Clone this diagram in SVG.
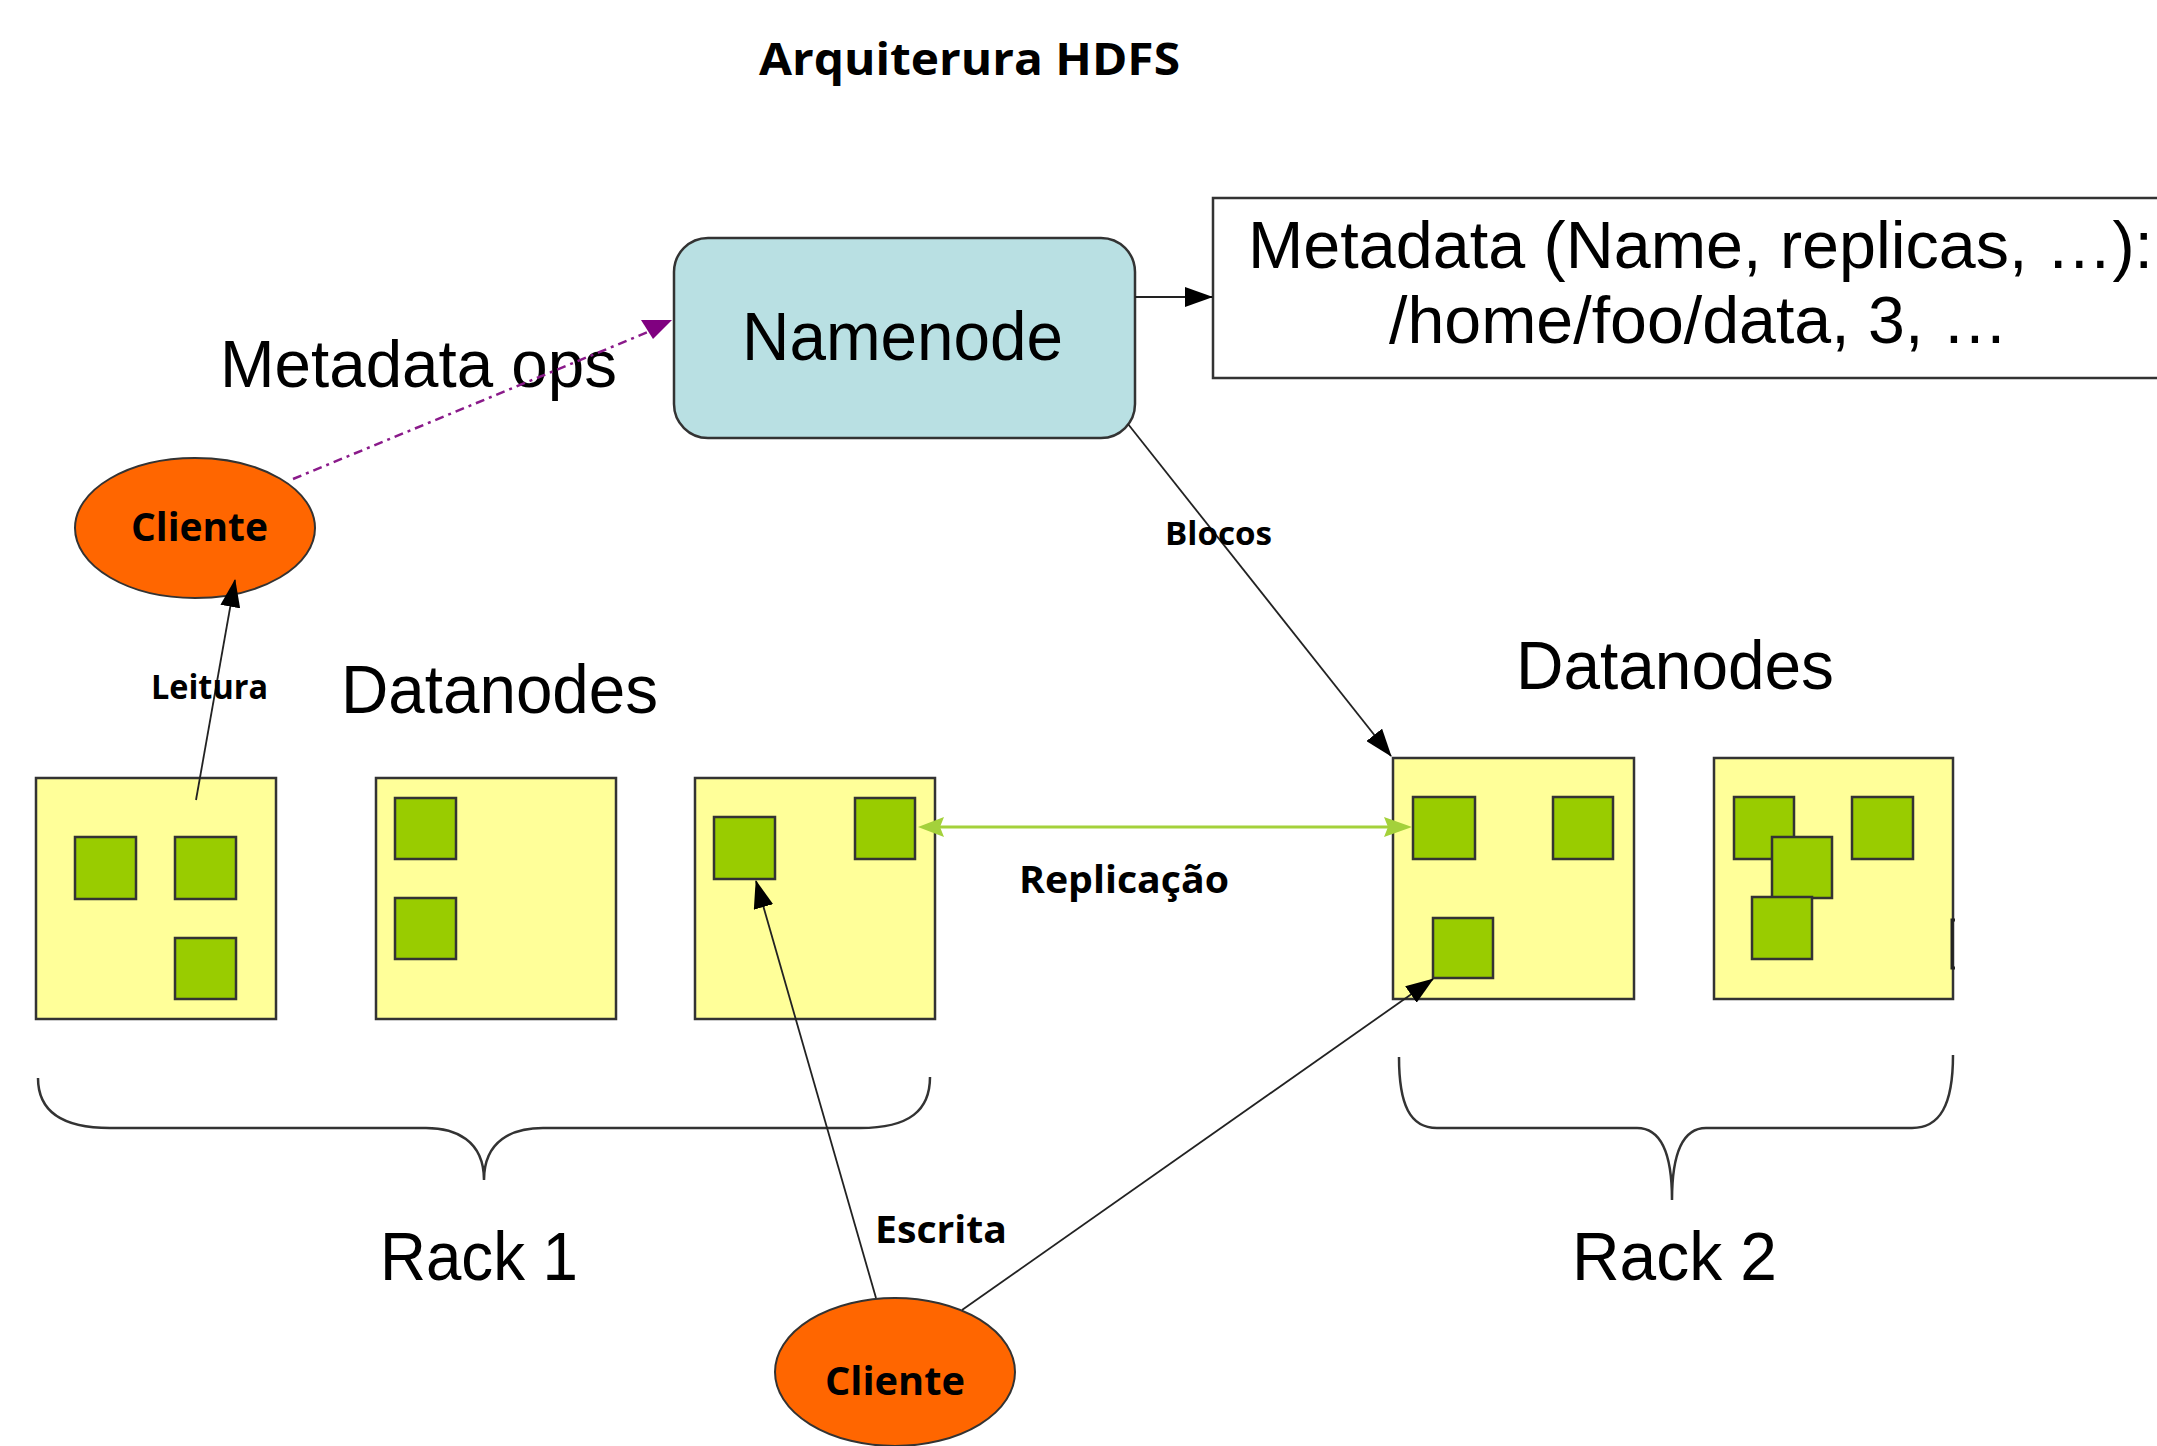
<svg xmlns="http://www.w3.org/2000/svg" width="2157" height="1446" viewBox="0 0 2157 1446">
  <style>
    .bg { fill: #ffffff; }
    .sans { font-family: "Liberation Sans", Arial, sans-serif; fill: #000; }
    .bold { font-family: "Open Sans", "Noto Sans", sans-serif; font-weight: bold; fill: #000; }
    .rack { fill: #ffff99; stroke: #333; stroke-width: 2.5; }
    .blk { fill: #99cc00; stroke: #333; stroke-width: 2.5; }
    .client { fill: #ff6600; stroke: #333; stroke-width: 2; }
    .link { stroke: #222; stroke-width: 1.8; fill: none; }
    .brace { stroke: #333; stroke-width: 2.5; fill: none; }
  </style>
  <defs>
    <marker id="arrow" markerUnits="userSpaceOnUse" markerWidth="28" markerHeight="20" viewBox="0 0 28 20" refX="27" refY="10" orient="auto">
      <path d="M0,0 L28,10 L0,20 Z" fill="#000"/>
    </marker>
  </defs>

  <rect class="bg" x="0" y="0" width="2157" height="1446"/>

  <text id="title" class="bold" x="759" y="75" font-size="44" textLength="421" lengthAdjust="spacingAndGlyphs">Arquiterura HDFS</text>

  <!-- namenode and its metadata -->
  <g id="namenode">
    <rect x="674" y="238" width="461" height="200" rx="34" ry="34" fill="#b9e0e3" stroke="#333" stroke-width="2.5"/>
    <text class="sans" x="742" y="360" font-size="68" textLength="321" lengthAdjust="spacingAndGlyphs">Namenode</text>
  </g>
  <g id="metadata">
    <rect x="1213" y="198" width="960" height="180" fill="#fff" stroke="#333" stroke-width="2.5"/>
    <text class="sans" x="1248" y="268" font-size="66" textLength="905" lengthAdjust="spacingAndGlyphs">Metadata (Name, replicas, …):</text>
    <text class="sans" x="1389" y="343" font-size="66" textLength="619" lengthAdjust="spacingAndGlyphs">/home/foo/data, 3, …</text>
  </g>

  <text id="label-metadata-ops" class="sans" x="220" y="387" font-size="66" textLength="397" lengthAdjust="spacingAndGlyphs">Metadata ops</text>

  <!-- clients -->
  <g id="client-read">
    <ellipse class="client" cx="195" cy="528" rx="120" ry="70"/>
    <text class="bold" x="131" y="541" font-size="40" textLength="137" lengthAdjust="spacingAndGlyphs">Cliente</text>
  </g>
  <g id="client-write">
    <ellipse class="client" cx="895" cy="1372" rx="120" ry="74"/>
    <text class="bold" x="825" y="1395" font-size="40" textLength="140" lengthAdjust="spacingAndGlyphs">Cliente</text>
  </g>

  <text class="sans" x="341" y="713" font-size="68" textLength="317" lengthAdjust="spacingAndGlyphs">Datanodes</text>
  <text class="sans" x="1516" y="689" font-size="68" textLength="318" lengthAdjust="spacingAndGlyphs">Datanodes</text>

  <!-- rack 1 datanodes -->
  <g id="datanode-1">
    <rect class="rack" x="36" y="778" width="240" height="241"/>
    <rect class="blk" x="75" y="837" width="61" height="62"/>
    <rect class="blk" x="175" y="837" width="61" height="62"/>
    <rect class="blk" x="175" y="938" width="61" height="61"/>
  </g>
  <g id="datanode-2">
    <rect class="rack" x="376" y="778" width="240" height="241"/>
    <rect class="blk" x="395" y="798" width="61" height="61"/>
    <rect class="blk" x="395" y="898" width="61" height="61"/>
  </g>
  <g id="datanode-3">
    <rect class="rack" x="695" y="778" width="240" height="241"/>
    <rect class="blk" x="714" y="817" width="61" height="62"/>
    <rect class="blk" x="855" y="798" width="60" height="61"/>
  </g>

  <!-- rack 2 datanodes -->
  <g id="datanode-4">
    <rect class="rack" x="1393" y="758" width="241" height="241"/>
    <rect class="blk" x="1413" y="797" width="62" height="62"/>
    <rect class="blk" x="1553" y="797" width="60" height="62"/>
    <rect class="blk" x="1433" y="918" width="60" height="60"/>
  </g>
  <g id="datanode-5">
    <rect class="rack" x="1714" y="758" width="239" height="241"/>
    <rect class="blk" x="1734" y="797" width="60" height="62"/>
    <rect class="blk" x="1852" y="797" width="61" height="62"/>
    <rect class="blk" x="1772" y="837" width="60" height="61"/>
    <rect class="blk" x="1752" y="897" width="60" height="62"/>
    <path d="M1955 920 L1952 920 L1952 968 L1955 968" stroke="#222" stroke-width="3" fill="none"/>
  </g>

  <!-- rack braces -->
  <g id="rack-1">
    <path class="brace" d="M38 1078 C38 1110 60 1128 110 1128 L426 1128 C455 1128 484 1140 484 1180 C484 1140 513 1128 543 1128 L860 1128 C910 1128 930 1110 930 1077"/>
    <text class="sans" x="380" y="1280" font-size="68" textLength="198" lengthAdjust="spacingAndGlyphs">Rack 1</text>
  </g>
  <g id="rack-2">
    <path class="brace" d="M1399 1057 C1399 1105 1410 1128 1437 1128 L1637 1128 C1660 1128 1672 1150 1672 1200 C1672 1150 1684 1128 1706 1128 L1912 1128 C1940 1128 1953 1105 1953 1055"/>
    <text class="sans" x="1572" y="1280" font-size="68" textLength="205" lengthAdjust="spacingAndGlyphs">Rack 2</text>
  </g>

  <!-- connectors, drawn over the datanodes -->
  <g id="connectors">
    <line class="link" x1="1135" y1="297" x2="1212" y2="297" marker-end="url(#arrow)"/>
    <line x1="293" y1="479" x2="660" y2="327" stroke="#8a1a8a" stroke-width="2.5" stroke-dasharray="9 5 3 5"/>
    <polygon points="641,320 672,320 653,339" fill="#800080"/>
    <line class="link" x1="196" y1="800" x2="235" y2="580" marker-end="url(#arrow)"/>
    <line class="link" x1="1128" y1="424" x2="1391" y2="756" marker-end="url(#arrow)"/>
    <line class="link" x1="876" y1="1298" x2="756" y2="881" marker-end="url(#arrow)"/>
    <line class="link" x1="962" y1="1310" x2="1433" y2="979" marker-end="url(#arrow)"/>
    <line x1="930" y1="827" x2="1400" y2="827" stroke="#a4d13b" stroke-width="3"/>
    <polygon points="918,827 944,817 940,827 944,837" fill="#a4d13b"/>
    <polygon points="1412,827 1384,817 1388,827 1384,837" fill="#a4d13b"/>
  </g>

  <!-- connector labels -->
  <text id="label-leitura" class="bold" x="151" y="699" font-size="34" textLength="117" lengthAdjust="spacingAndGlyphs">Leitura</text>
  <text id="label-blocos" class="bold" x="1165" y="545" font-size="33" textLength="107" lengthAdjust="spacingAndGlyphs">Blocos</text>
  <text id="label-replicacao" class="bold" x="1019" y="893" font-size="38" textLength="210" lengthAdjust="spacingAndGlyphs">Replicação</text>
  <text id="label-escrita" class="bold" x="875" y="1243" font-size="38" textLength="132" lengthAdjust="spacingAndGlyphs">Escrita</text>
</svg>
